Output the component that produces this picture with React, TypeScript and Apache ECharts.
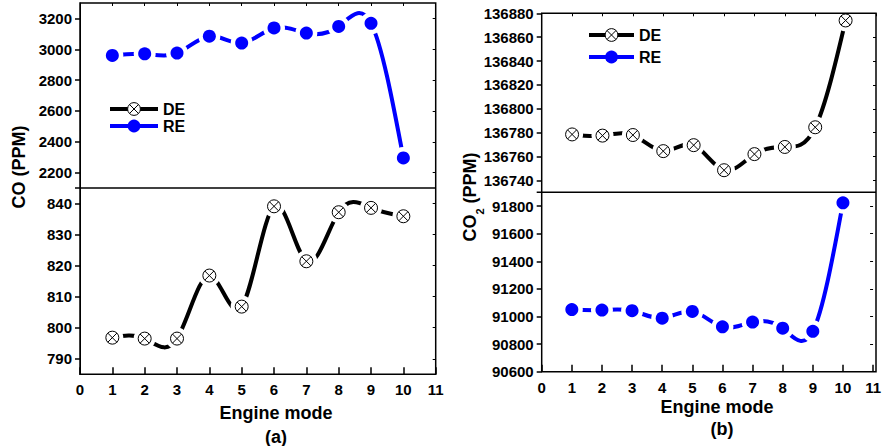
import React, { useEffect, useRef } from 'react';
import * as echarts from 'echarts';

// ---- data ----
const modes = [1, 2, 3, 4, 5, 6, 7, 8, 9, 10];
const coRE = [2960, 2970, 2975, 3085, 3040, 3138, 3105, 3148, 3168, 2295];
const coDE = [796.8, 796.5, 796.5, 816.8, 806.8, 839.1, 821.4, 837.2, 838.6, 835.9];
const co2DE = [136778.5, 136777.5, 136778, 136764.5, 136769.5, 136748.5, 136762, 136768, 136784.5, 136874];
const co2RE = [91050, 91047, 91042, 90988, 91037, 90925, 90960, 90915, 90893, 91824];

// ---- tick labels ----
const xTicks = [0, 1, 2, 3, 4, 5, 6, 7, 8, 9, 10, 11];
const coUpperTicks = [2200, 2400, 2600, 2800, 3000, 3200];
const coLowerTicks = [790, 800, 810, 820, 830, 840];
const co2UpperTicks = [136740, 136760, 136780, 136800, 136820, 136840, 136860, 136880];
const co2LowerTicks = [90600, 90800, 91000, 91200, 91400, 91600, 91800];

const BLUE = '#0000ff';
const FONT = '"Liberation Sans", Arial, Helvetica, sans-serif';
const XMARK =
  'path://M0,10A10,10,0,1,1,20,10A10,10,0,1,1,0,10ZM2.93,2.93L17.07,17.07M17.07,2.93L2.93,17.07';

const G = [
  { left: 80, top: 3, width: 355.7, height: 185 },
  { left: 80, top: 188, width: 355.7, height: 186.3 },
  { left: 541.7, top: 13.3, width: 334.3, height: 179 },
  { left: 541.7, top: 192.3, width: 334.3, height: 179.4 },
];
const RANGES = [
  [2100, 3300],
  [785, 845],
  [136730, 136880],
  [90600, 91900],
];
const TICKS = [coUpperTicks, coLowerTicks, co2UpperTicks, co2LowerTicks];

const pts = (ys: number[]) => modes.map((m, i) => [m, ys[i]]);

// natural cubic spline second derivatives (like the original plot's spline connection)
function splineM(xs: number[], ys: number[]) {
  const n = ys.length;
  const M = new Array(n).fill(0);
  const m = n - 2;
  if (m <= 0) return M;
  const a: number[] = [], b: number[] = [], c: number[] = [], d: number[] = [];
  for (let i = 1; i < n - 1; i++) {
    const h0 = xs[i] - xs[i - 1];
    const h1 = xs[i + 1] - xs[i];
    a.push(h0);
    b.push(2 * (h0 + h1));
    c.push(h1);
    d.push(6 * ((ys[i + 1] - ys[i]) / h1 - (ys[i] - ys[i - 1]) / h0));
  }
  const cp = new Array(m), dp = new Array(m);
  cp[0] = c[0] / b[0];
  dp[0] = d[0] / b[0];
  for (let i = 1; i < m; i++) {
    const den = b[i] - a[i] * cp[i - 1];
    cp[i] = c[i] / den;
    dp[i] = (d[i] - a[i] * dp[i - 1]) / den;
  }
  const sol = new Array(m);
  sol[m - 1] = dp[m - 1];
  for (let i = m - 2; i >= 0; i--) sol[i] = dp[i] - cp[i] * sol[i + 1];
  for (let i = 0; i < m; i++) M[i + 1] = sol[i];
  return M;
}

function curveSeries(ys: number[], g: number, color: string) {
  const M = splineM(modes, ys);
  return {
    type: 'custom',
    name: 'curve-' + g,
    xAxisIndex: g,
    yAxisIndex: g,
    data: pts(ys),
    encode: { x: 0, y: 1 },
    z: 2,
    silent: true,
    renderItem: (params: any, api: any) => {
      const i = params.dataIndex;
      if (i >= ys.length - 1) return { type: 'group', children: [] };
      const x0 = modes[i], x1 = modes[i + 1];
      const y0 = ys[i], y1 = ys[i + 1];
      const h = x1 - x0;
      const s0 = (y1 - y0) / h - (h * (2 * M[i] + M[i + 1])) / 6;
      const s1 = (y1 - y0) / h + (h * (M[i] + 2 * M[i + 1])) / 6;
      const P0 = api.coord([x0, y0]);
      const P1 = api.coord([x1, y1]);
      const C0 = api.coord([x0 + h / 3, y0 + (h / 3) * s0]);
      const C1 = api.coord([x1 - h / 3, y1 - (h / 3) * s1]);
      return {
        type: 'bezierCurve',
        shape: {
          x1: P0[0], y1: P0[1], x2: P1[0], y2: P1[1],
          cpx1: C0[0], cpy1: C0[1], cpx2: C1[0], cpy2: C1[1],
        },
        style: { stroke: color, lineWidth: 4, fill: null },
      };
    },
  };
}

function trio(name: string, ys: number[], g: number, color: string, isDE: boolean) {
  const data = pts(ys);
  return [
    curveSeries(ys, g, color),
    {
      type: 'scatter',
      name: 'halo-' + g,
      xAxisIndex: g,
      yAxisIndex: g,
      data,
      symbol: 'circle',
      symbolSize: 22,
      itemStyle: { color: '#ffffff', opacity: 1 },
      z: 3,
      silent: true,
    },
    {
      type: 'line',
      name,
      xAxisIndex: g,
      yAxisIndex: g,
      data,
      symbol: isDE ? XMARK : 'circle',
      symbolSize: 13,
      showSymbol: true,
      showAllSymbol: true,
      lineStyle: { width: 4, color, opacity: 0 },
      itemStyle: isDE
        ? { color: '#ffffff', borderColor: '#000000', borderWidth: 1 }
        : { color: BLUE },
      z: 4,
      silent: true,
    },
  ];
}

const legendText = {
  fontFamily: FONT,
  fontWeight: 'bold',
  fontSize: 16,
  color: '#000',
  lineHeight: 16,
};

function legendItem(name: string, left: number, top: number, width: number) {
  return {
    data: [{ name }],
    left,
    top,
    orient: 'vertical',
    itemWidth: width,
    itemHeight: 16,
    padding: 0,
    selectedMode: false,
    textStyle: legendText,
    lineStyle: { opacity: 1, type: 'solid', width: 4 },
    itemStyle: { borderWidth: 1 },
  };
}

export default function App() {
  const ref = useRef<HTMLDivElement>(null);
  useEffect(() => {
    if (!ref.current) return;
    const chart = echarts.init(ref.current, null, { renderer: 'svg' });
    const labelStyle = { fontFamily: FONT, fontWeight: 'bold', fontSize: 15, color: '#000' };

    const xAxis: any[] = G.map((_, g) => {
      const lower = g % 2 === 1;
      return {
        type: 'value',
        gridIndex: g,
        min: 0,
        max: 11,
        interval: 1,
        position: lower ? 'bottom' : 'top',
        axisLine: { show: lower, lineStyle: { color: '#000', width: 1 } },
        axisTick: {
          show: true,
          inside: true,
          length: lower ? 7 : 3,
          lineStyle: { color: '#000', width: lower ? 1.5 : 1 },
        },
        axisLabel: lower
          ? { show: true, margin: 8, ...labelStyle, formatter: (v: number) => (xTicks.includes(v) ? String(v) : '') }
          : { show: false },
        splitLine: { show: false },
      };
    });

    const yAxis: any[] = [];
    G.forEach((_, g) => {
      yAxis.push({
        type: 'value',
        gridIndex: g,
        min: RANGES[g][0],
        max: RANGES[g][1],
        position: 'left',
        axisLine: { show: true, lineStyle: { color: '#000', width: 1 } },
        axisTick: {
          show: true,
          inside: false,
          length: 5,
          customValues: TICKS[g],
          lineStyle: { color: '#000', width: 1.5 },
        },
        axisLabel: {
          show: true,
          margin: 8,
          customValues: TICKS[g],
          ...labelStyle,
          formatter: (v: number) => String(v),
        },
        splitLine: { show: false },
      });
    });
    G.forEach((_, g) => {
      yAxis.push({
        type: 'value',
        gridIndex: g,
        min: RANGES[g][0],
        max: RANGES[g][1],
        position: 'right',
        axisLine: { show: false },
        axisTick: {
          show: true,
          inside: true,
          length: 3,
          customValues: TICKS[g],
          lineStyle: { color: '#000', width: 1 },
        },
        axisLabel: { show: false },
        splitLine: { show: false },
      });
    });

    const series: any[] = [
      ...trio('RE', coRE, 0, BLUE, false),
      ...trio('DE', coDE, 1, '#000000', true),
      ...trio('DE', co2DE, 2, '#000000', true),
      ...trio('RE', co2RE, 3, BLUE, false),
    ];

    const titleFont = 'bold 18px ' + FONT;
    const graphic: any[] = [
      {
        type: 'rect',
        z: 100,
        silent: true,
        shape: { x: G[0].left, y: G[0].top, width: G[0].width, height: G[0].height + G[1].height },
        style: { fill: 'none', stroke: '#000', lineWidth: 1.5 },
      },
      {
        type: 'line',
        z: 100,
        silent: true,
        shape: { x1: G[0].left - 5, y1: G[1].top, x2: G[0].left + G[0].width, y2: G[1].top },
        style: { stroke: '#000', lineWidth: 1.5 },
      },
      {
        type: 'rect',
        z: 100,
        silent: true,
        shape: { x: G[2].left, y: G[2].top, width: G[2].width, height: G[2].height + G[3].height },
        style: { fill: 'none', stroke: '#000', lineWidth: 1.5 },
      },
      {
        type: 'line',
        z: 100,
        silent: true,
        shape: { x1: G[2].left - 5, y1: G[3].top, x2: G[2].left + G[2].width, y2: G[3].top },
        style: { stroke: '#000', lineWidth: 1.5 },
      },
      {
        type: 'text',
        x: 19,
        y: 167,
        rotation: Math.PI / 2,
        style: { text: 'CO (PPM)', font: titleFont, fill: '#000', align: 'center', verticalAlign: 'middle' },
      },
      {
        type: 'text',
        x: 470,
        y: 197,
        rotation: Math.PI / 2,
        style: {
          text: 'CO{sub|2} (PPM)',
          font: titleFont,
          fill: '#000',
          align: 'center',
          verticalAlign: 'middle',
          rich: {
            sub: { fontFamily: FONT, fontWeight: 'bold', fontSize: 11, padding: [20, 0, 0, 0], fill: '#000' },
          },
        },
      },
      {
        type: 'text',
        x: 276,
        y: 413,
        style: { text: 'Engine mode', font: titleFont, fill: '#000', align: 'center', verticalAlign: 'middle' },
      },
      {
        type: 'text',
        x: 276,
        y: 437,
        style: { text: '(a)', font: titleFont, fill: '#000', align: 'center', verticalAlign: 'middle' },
      },
      {
        type: 'text',
        x: 717,
        y: 407,
        style: { text: 'Engine mode', font: titleFont, fill: '#000', align: 'center', verticalAlign: 'middle' },
      },
      {
        type: 'text',
        x: 722,
        y: 429,
        style: { text: '(b)', font: titleFont, fill: '#000', align: 'center', verticalAlign: 'middle' },
      },
    ];

    chart.setOption({
      animation: false,
      backgroundColor: '#ffffff',
      grid: G.map((g) => ({ ...g, show: false, containLabel: false })),
      xAxis,
      yAxis,
      legend: [
        legendItem('DE', 108, 101, 48),
        legendItem('RE', 108, 118, 48),
        legendItem('DE', 587, 27, 45),
        legendItem('RE', 587, 49, 45),
      ],
      series,
      graphic,
    });
    return () => chart.dispose();
  }, []);

  return (
    <div
      ref={ref}
      style={{ position: 'fixed', left: 0, top: 0, width: '884px', height: '446px', background: '#fff' }}
    />
  );
}
